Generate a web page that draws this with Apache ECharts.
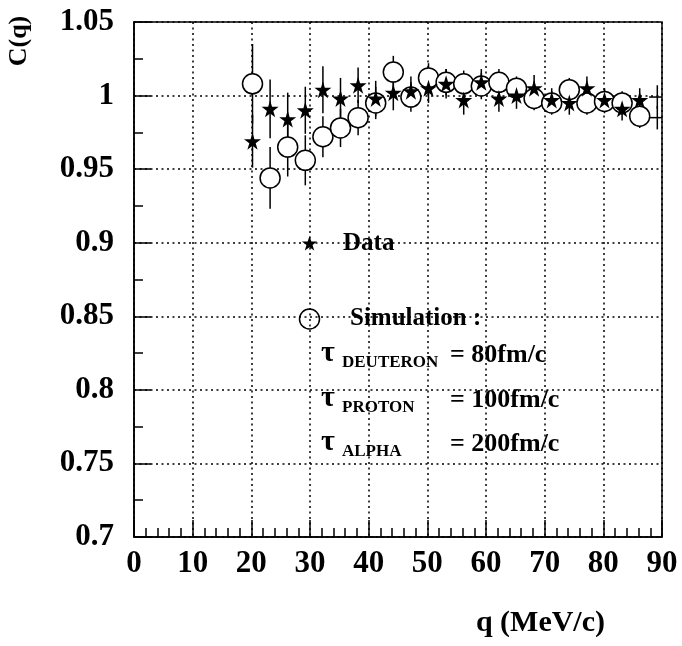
<!DOCTYPE html>
<html>
<head>
<meta charset="utf-8">
<script src="https://cdn.jsdelivr.net/npm/echarts@6/dist/echarts.min.js"></script>
<style>
  html, body { margin: 0; padding: 0; background: #fff; }
  #chart { width: 682px; height: 646px; }
</style>
</head>
<body>
<div id="chart"></div>
<script>
// q bins (MeV/c)
const qValues = [20.2, 23.2, 26.2, 29.2, 32.2, 35.2, 38.2, 41.2, 44.2, 47.2, 50.2, 53.2,
  56.2, 59.2, 62.2, 65.2, 68.2, 71.2, 74.2, 77.2, 80.2, 83.2, 86.2];
// measured correlation (stars)
const dataC = [0.969, 0.991, 0.984, 0.990, 1.004, 0.998, 1.007, 0.998, 1.002, 1.003, 1.005, 1.008,
  0.997, 1.009, 0.998, 1.000, 1.005, 0.997, 0.995, 1.005, 0.997, 0.991, 0.997];
const dataErr = [0.018, 0.020, 0.018, 0.016, 0.016, 0.014, 0.012, 0.012, 0.012, 0.010, 0.010, 0.010,
  0.010, 0.009, 0.009, 0.009, 0.009, 0.008, 0.008, 0.008, 0.008, 0.008, 0.008];
// simulation (open circles)
const simC = [1.008, 0.944, 0.965, 0.956, 0.972, 0.978, 0.985, 0.995, 1.016, 0.999, 1.012, 1.009,
  1.008, 1.0065, 1.009, 1.005, 0.998, 0.995, 1.004, 0.995, 0.996, 0.995, 0.986];
const simErr = [0.027, 0.021, 0.020, 0.017, 0.014, 0.013, 0.012, 0.011, 0.011, 0.010, 0.010, 0.009,
  0.009, 0.009, 0.009, 0.008, 0.008, 0.008, 0.008, 0.008, 0.008, 0.008, 0.008];
// last bin, only its error crosses are visible at the frame edge
const edgeQ = [89.2, 89.2];
const edgeC = [0.999, 0.985];
const edgeErr = [0.008, 0.008];
const edgeHalfWidth = 1.4;

const xTicks = [0, 90, 10];
const yTicks = [0.7, 1.05, 0.05];

const FONT = "Liberation Serif";
const STAR = "path://M50,0 L61,35 L98,35 L68,57 L79,91 L50,70 L21,91 L32,57 L2,35 L39,35 Z";

// star outline for the legend icon
const starPoints = (cx, cy, r) => {
  const pts = [];
  for (let k = 0; k < 10; k++) {
    const a = -Math.PI / 2 + k * Math.PI / 5;
    const rr = k % 2 ? r * 0.4 : r;
    pts.push([cx + rr * Math.cos(a), cy + rr * Math.sin(a)]);
  }
  return pts;
};

const chart = echarts.init(document.getElementById("chart"));

const errBar = (params, api) => {
  const x = api.value(0);
  const a = api.coord([x, api.value(1)]);
  const b = api.coord([x, api.value(2)]);
  const children = [{
    type: "line",
    shape: { x1: a[0], y1: a[1], x2: b[0], y2: b[1] },
    style: { stroke: "#000", lineWidth: 1.5 },
  }];
  const hw = api.value(3);
  if (hw) {
    const mid = (api.value(1) + api.value(2)) / 2;
    const l = api.coord([x - hw, mid]);
    const r = api.coord([x + hw, mid]);
    children.push({
      type: "line",
      shape: { x1: l[0], y1: l[1], x2: r[0], y2: r[1] },
      style: { stroke: "#000", lineWidth: 1.5 },
    });
  }
  return { type: "group", children };
};

const labelStyle = { fontFamily: FONT, fontWeight: "bold", fontSize: 31, color: "#000" };
const dotted = { color: "#000", width: 1.5, type: [2, 3.5] };

const options = {
  animation: false,
  backgroundColor: "#fff",
  grid: {
    left: 134, right: 20, top: 22, bottom: 109,
    show: true, borderColor: "#000", borderWidth: 1.5,
  },
  xAxis: {
    type: "value",
    min: xTicks[0], max: xTicks[1], interval: xTicks[2],
    axisLine: { lineStyle: { color: "#000", width: 1.5 } },
    axisTick: { inside: true, length: 17, lineStyle: { color: "#000", width: 1.5 } },
    minorTick: { show: true, splitNumber: 5, length: 9, lineStyle: { color: "#000", width: 1.5 } },
    splitLine: { show: true, lineStyle: dotted },
    axisLabel: { ...labelStyle, margin: 11 },
  },
  yAxis: {
    type: "value",
    min: yTicks[0], max: yTicks[1], interval: yTicks[2],
    axisLine: { lineStyle: { color: "#000", width: 1.5 } },
    axisTick: { inside: true, length: 17, lineStyle: { color: "#000", width: 1.5 } },
    minorTick: { show: true, splitNumber: 2, length: 9, lineStyle: { color: "#000", width: 1.5 } },
    splitLine: { show: true, lineStyle: dotted },
    axisLabel: { ...labelStyle, margin: 20, formatter: (v) => String(+v.toFixed(2)) },
  },
  graphic: [
    { type: "text", x: 19, y: 41, rotation: Math.PI / 2,
      style: { text: "C(q)", font: `bold 26px "${FONT}"`, fill: "#000", align: "center", verticalAlign: "middle" } },
    { type: "text", x: 605, y: 623,
      style: { text: "q (MeV/c)", font: `bold 30px "${FONT}"`, fill: "#000", align: "right", verticalAlign: "middle" } },
    // legend
    { type: "polygon", shape: { points: starPoints(309.5, 244, 8) }, style: { fill: "#000" } },
    { type: "text", x: 343, y: 244,
      style: { text: "Data", font: `bold 25px "${FONT}"`, fill: "#000", verticalAlign: "middle" } },
    { type: "circle", shape: { cx: 309.5, cy: 319, r: 10 },
      style: { fill: "none", stroke: "#000", lineWidth: 1.5 } },
    { type: "text", x: 350, y: 319,
      style: { text: "Simulation :", font: `bold 25px "${FONT}"`, fill: "#000", verticalAlign: "middle" } },
    ...[["DEUTERON", "= 80fm/c", 353], ["PROTON", "= 100fm/c", 398], ["ALPHA", "= 200fm/c", 442]].flatMap(([sub, val, y]) => [
      { type: "text", x: 321, y: y,
        style: { text: "τ", font: `bold 30px "${FONT}"`, fill: "#000", verticalAlign: "middle" } },
      { type: "text", x: 342, y: y + 10,
        style: { text: sub, font: `bold 17px "${FONT}"`, fill: "#000", verticalAlign: "middle" } },
      { type: "text", x: 450, y: y + 2,
        style: { text: val, font: `bold 26px "${FONT}"`, fill: "#000", verticalAlign: "middle" } },
    ]),
  ],
  series: [
    {
      type: "custom", name: "Simulation errors", clip: true, z: 2,
      renderItem: errBar,
      data: qValues.map((q, i) => [q, simC[i] - simErr[i], simC[i] + simErr[i], 0]),
    },
    {
      type: "custom", name: "Data errors", clip: true, z: 2,
      renderItem: errBar,
      data: qValues.map((q, i) => [q, dataC[i] - dataErr[i], dataC[i] + dataErr[i], 0]),
    },
    {
      type: "custom", name: "Edge bin", clip: true, z: 2,
      renderItem: errBar,
      data: edgeQ.map((q, i) => [q, edgeC[i] - edgeErr[i], edgeC[i] + edgeErr[i], edgeHalfWidth]),
    },
    {
      type: "scatter", name: "Simulation", z: 3,
      symbol: "circle", symbolSize: 20,
      itemStyle: { color: "#fff", borderColor: "#000", borderWidth: 1.5, opacity: 1 },
      data: qValues.map((q, i) => [q, simC[i]]),
    },
    {
      type: "scatter", name: "Data", z: 4,
      symbol: STAR, symbolSize: 17,
      itemStyle: { color: "#000", opacity: 1 },
      data: qValues.map((q, i) => [q, dataC[i]]),
    },
  ],
};

chart.setOption(options);
</script>
</body>
</html>
